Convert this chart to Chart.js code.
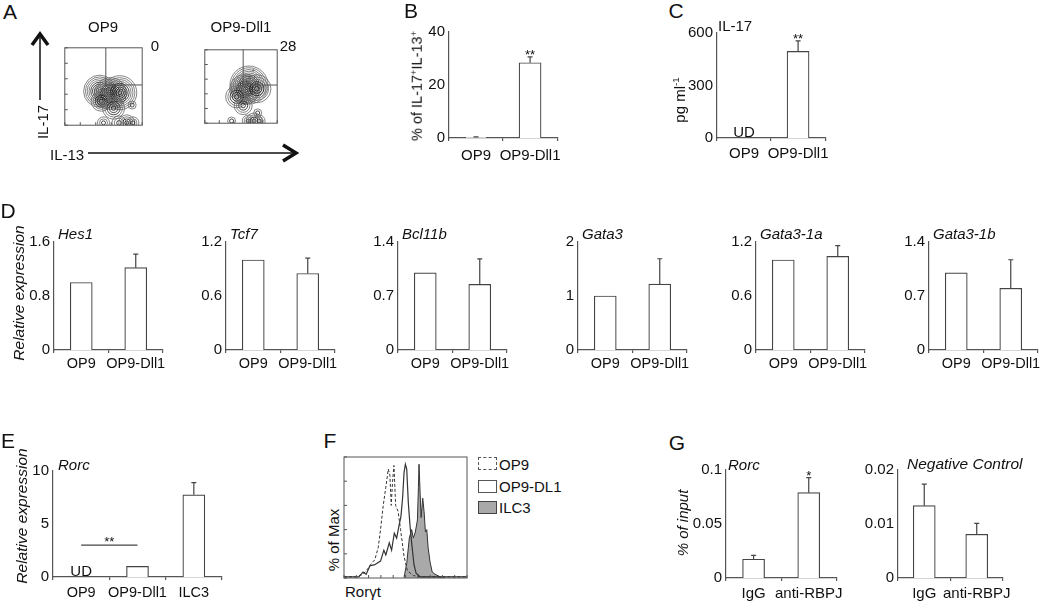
<!DOCTYPE html>
<html>
<head>
<meta charset="utf-8">
<title>Figure</title>
<script src="https://cdn.jsdelivr.net/npm/chart.js@4.4.1/dist/chart.umd.min.js"></script>
<style>
  body { margin: 0; width: 1050px; height: 603px; position: relative; overflow: hidden; background: #fff;
         font-family: "Liberation Sans", Arial, Helvetica, sans-serif; color: #111; }
  canvas { position: absolute; }
  .t { position: absolute; white-space: nowrap; line-height: 1; }
  sup { font-size: .65em; vertical-align: .55em; line-height: 0; }
  .key { position: absolute; left: 478px; width: 19px; height: 13px; box-sizing: border-box; }
</style>
</head>
<body>
<svg width="1050" height="603" style="position:absolute;left:0;top:0">
  <g stroke="#111" fill="none">
    <line x1="40" y1="36" x2="40" y2="100" stroke-width="1.5"/>
    <polyline points="32,45 40,34 48,45" stroke-width="3.5"/>
    <line x1="88" y1="153" x2="295" y2="153" stroke-width="1.5"/>
    <polyline points="283,145 296,153 283,161" stroke-width="3.5"/>
  </g>
</svg>
<div class="key" style="top:457px;border:1px dashed #555;background:#fff"></div>
<div class="key" style="top:480px;border:1px solid #555;background:#fff"></div>
<div class="key" style="top:501px;border:1px solid #444;background:#a9a9a9"></div>
<script>
// ---------- data ----------
// A: contour peaks (x, y in % of channel range, outer ring radius px, number of rings)
const a1PeakX = [45, 59, 71, 47, 63, 87, 50, 70, 80, 88];
const a1PeakY = [44, 41, 42, 31, 22, 26, 3, 3, 3, 3];
const a1PeakR = [16, 16, 17, 10, 11, 4, 6, 7, 8, 6];
const a1PeakN = [9, 10, 9, 5, 5, 2, 3, 3, 4, 3];
const a2PeakX = [61, 55, 72, 44, 53, 73, 37, 60, 68, 75, 67];
const a2PeakY = [52, 46, 47, 36, 24, 14, 3, 3, 3, 3, 72];
const a2PeakR = [19, 15, 14, 11, 9, 4, 4, 6, 8, 6, 0.8];
const a2PeakN = [11, 9, 6, 5, 4, 2, 2, 3, 4, 3, 1];
const gateX = 53, gateY = 52;

// B, C
const bcCats = ['OP9', 'OP9-Dll1'];
const pctIL17IL13 = [0.3, 28.4];
const pctIL17IL13Err = [0.1, 2.2];
const il17pg = [null, 495];
const il17pgErr = [0, 60];

// D
const dCats = ['OP9', 'OP9-Dll1'];
const hes1 = [1.0, 1.22], hes1Err = [0, 0.20];
const tcf7 = [1.0, 0.85], tcf7Err = [0, 0.17];
const bcl11b = [1.0, 0.85], bcl11bErr = [0, 0.33];
const gata3 = [1.0, 1.22], gata3Err = [0, 0.47];
const gata31a = [1.0, 1.04], gata31aErr = [0, 0.12];
const gata31b = [1.0, 0.80], gata31bErr = [0, 0.37];

// E
const eCats = ['OP9', 'OP9-Dll1', 'ILC3'];
const rorcExpr = [null, 1.0, 7.75];
const rorcExprErr = [0, 0, 1.15];

// F: histograms (x = Rorγt channel %, y = % of max)
const op9X = [0, 10, 15.5, 19.6, 22.3, 25, 27.8, 29.7, 31.9, 34, 36, 37.3, 38.4, 39.5, 40.6, 42, 44, 46, 48.8, 51.5, 56.4, 62, 100];
const op9Y = [1, 1, 3, 8, 12, 15, 25, 40, 60, 75, 90, 85, 60, 80, 93, 60, 55, 40, 18, 6, 2, 1, 1];
const dl1X = [0, 12, 15.5, 18, 21, 25, 29.7, 32.4, 34, 36.8, 38.7, 40.9, 42.8, 44.7, 46.3, 47.7, 48.8, 49.9, 51, 52.3, 53.7, 55, 56.9, 58.6, 61.9, 100];
const dl1Y = [1, 1, 5, 3, 10, 11, 14, 23, 19, 29, 23, 37, 33, 43, 51, 67, 87, 94, 90, 62, 43, 29, 11, 4, 1, 1];
const ilc3X = [48.8, 51, 53.1, 55, 56.4, 58, 59.7, 60.5, 61, 61.9, 62.7, 64, 65.1, 66.2, 67.3, 68.4, 70, 71.7, 74.1, 78.2, 82.3];
const ilc3Y = [0.5, 12, 33, 40, 33, 38, 48, 75, 94, 70, 50, 66, 55, 38, 40, 25, 13, 5, 3, 1, 0];

// G
const gCats = ['IgG', 'anti-RBPJ'];
const rorcInput = [0.0174, 0.079], rorcInputErr = [0.0036, 0.014];
const negInput = [0.0134, 0.0081], negInputErr = [0.004, 0.002];

// ---------- helpers ----------
const FONT = '"Liberation Sans", Arial, Helvetica, sans-serif';
const AX = '#555', LINE = '#444', INK = '#111';
Chart.defaults.font.family = FONT;
Chart.defaults.color = INK;
Chart.defaults.animation = false;
Chart.defaults.plugins.legend.display = false;
Chart.defaults.plugins.tooltip.enabled = false;

function canvas(l, t, w, h) {
  const c = document.createElement('canvas');
  c.width = w; c.height = h;
  c.style.left = l + 'px'; c.style.top = t + 'px';
  c.style.width = w + 'px'; c.style.height = h + 'px';
  document.body.appendChild(c);
  return c;
}

function text(html, x, y, size, o = {}) {
  const d = document.createElement('div');
  d.className = 't';
  d.innerHTML = html;
  d.style.left = x + 'px';
  d.style.top = y + 'px';
  d.style.fontSize = size + 'px';
  if (o.it) d.style.fontStyle = 'italic';
  d.style.transform = `translate(${o.left ? '0' : '-50%'},-50%)` + (o.rot ? ' rotate(-90deg)' : '');
  document.body.appendChild(d);
}

const fmt = v => String(Math.round(v * 1e4) / 1e4);

// error bars, stars, UD and brackets drawn from the bar elements / scales
function marks(errs, o) {
  return {
    id: 'marks',
    afterDatasetsDraw(chart) {
      const ctx = chart.ctx, x = chart.scales.x, y = chart.scales.y;
      const vals = chart.data.datasets[0].data;
      const meta = chart.getDatasetMeta(0);
      ctx.save();
      ctx.strokeStyle = LINE;
      ctx.lineWidth = 1.2;
      meta.data.forEach((bar, i) => {
        if (vals[i] == null || !errs[i]) return;
        const top = y.getPixelForValue(vals[i] + errs[i]);
        ctx.beginPath();
        ctx.moveTo(bar.x, bar.y); ctx.lineTo(bar.x, top);
        ctx.moveTo(bar.x - 2.5, top); ctx.lineTo(bar.x + 2.5, top);
        ctx.stroke();
      });
      ctx.fillStyle = INK;
      ctx.textAlign = 'center';
      ctx.textBaseline = 'alphabetic';
      ctx.font = `13px ${FONT}`;
      (o.stars || []).forEach((s, i) => {
        if (!s) return;
        const v = (vals[i] || 0) + (errs[i] || 0);
        ctx.fillText(s, x.getPixelForValue(i), y.getPixelForValue(v) + 2);
      });
      if (o.bracket) {
        const b = o.bracket, py = y.getPixelForValue(b.v);
        const x0 = x.getPixelForValue(b.from), x1 = x.getPixelForValue(b.to);
        ctx.beginPath(); ctx.moveTo(x0, py); ctx.lineTo(x1, py); ctx.stroke();
        ctx.fillText(b.text, (x0 + x1) / 2, py + 1);
      }
      ctx.font = `15px ${FONT}`;
      (o.ud || []).forEach(i => {
        ctx.fillText('UD', x.getPixelForValue(i), y.getPixelForValue(0) - 1);
      });
      ctx.restore();
    }
  };
}

function barPanel(box, cats, vals, errs, yMax, yStep, o = {}) {
  const yw = 40, xh = 28, pt = 12, pr = 6;
  const c = canvas(box.l - yw, box.t - pt, box.r - box.l + yw + pr, box.b - box.t + pt + xh);
  new Chart(c, {
    type: 'bar',
    data: {
      labels: cats,
      datasets: [{ data: vals, backgroundColor: '#fff', borderColor: LINE, borderWidth: 1.2, barThickness: 22 }]
    },
    options: {
      responsive: false,
      devicePixelRatio: 1,
      layout: { padding: { top: pt, right: pr, left: 0, bottom: 0 } },
      scales: {
        x: {
          grid: { drawOnChartArea: false, tickLength: 3, color: AX, lineWidth: 1.2 },
          border: { color: AX, width: 1.2 },
          ticks: { padding: o.xPad ?? 4, font: { size: o.xFont || 15 }, color: INK, maxRotation: 0, autoSkip: false },
          afterFit: s => { s.height = xh; }
        },
        y: {
          min: 0, max: yMax,
          grid: { display: false, drawTicks: false, tickLength: 0 },
          border: { color: AX, width: 1.2 },
          ticks: { stepSize: yStep, padding: 4, font: { size: 15 }, color: INK, callback: fmt },
          afterFit: s => { s.width = yw; }
        }
      }
    },
    plugins: [marks(errs, o)]
  });
}

const hiddenAxis = step => ({
  min: 0, max: 100,
  ticks: { display: false, stepSize: step },
  grid: { display: false, drawTicks: false },
  border: { display: false },
  afterFit: s => { if (s.isHorizontal()) s.height = 0; else s.width = 0; }
});

// plot frame with short inward tick marks taken from the scales
const frame = {
  id: 'frame',
  afterDatasetsDraw(chart) {
    const { ctx, chartArea: a, scales: { x, y } } = chart;
    ctx.save();
    ctx.strokeStyle = AX;
    ctx.lineWidth = 1;
    ctx.strokeRect(a.left, a.top, a.width, a.height);
    ctx.beginPath();
    x.ticks.forEach(t => { const p = x.getPixelForValue(t.value); ctx.moveTo(p, a.bottom); ctx.lineTo(p, a.bottom - 3); });
    y.ticks.forEach(t => { const p = y.getPixelForValue(t.value); ctx.moveTo(a.left, p); ctx.lineTo(a.left + 3, p); });
    ctx.stroke();
    ctx.restore();
  }
};

const gate = (gx, gy) => ({
  id: 'gate',
  afterDatasetsDraw(chart) {
    const { ctx, chartArea: a, scales: { x, y } } = chart;
    const X = x.getPixelForValue(gx), Y = y.getPixelForValue(gy);
    ctx.save();
    ctx.strokeStyle = AX;
    ctx.lineWidth = 1;
    ctx.beginPath();
    ctx.moveTo(X, a.top); ctx.lineTo(X, Y); ctx.lineTo(a.right, Y);
    ctx.stroke();
    ctx.restore();
  }
});

function flowPanel(box, px, py, pr, pn) {
  const m = 2;
  const rings = [], shades = [];
  px.forEach((x, i) => {
    for (let k = 1; k <= pn[i]; k++) {
      rings.push({ x, y: py[i], r: pr[i] * k / pn[i] });
      shades.push(k / pn[i] > 0.6 ? '#666' : '#1a1a1a');   // outer levels lighter
    }
  });
  const c = canvas(box.l - m, box.t - m, box.r - box.l + 2 * m, box.b - box.t + 2 * m);
  new Chart(c, {
    type: 'bubble',
    data: { datasets: [{ data: rings, backgroundColor: 'rgba(0,0,0,0)', borderColor: shades, borderWidth: 0.8, clip: 0 }] },
    options: {
      responsive: false,
      devicePixelRatio: 1,
      layout: { padding: m },
      scales: { x: hiddenAxis(20), y: hiddenAxis(20) }
    },
    plugins: [frame, gate(gateX, gateY)]
  });
}

const zip = (xs, ys) => xs.map((x, i) => ({ x, y: ys[i] }));

// ---------- A ----------
text('A', 10, 11, 21);
flowPanel({ l: 49, t: 32, r: 158, b: 141 }, a1PeakX, a1PeakY, a1PeakR, a1PeakN);
flowPanel({ l: 187, t: 32, r: 295, b: 141 }, a2PeakX, a2PeakY, a2PeakR, a2PeakN);
text('OP9', 103, 26, 15);
text('OP9-Dll1', 241, 26, 15);
text('0', 155, 45, 15);
text('28', 288, 45, 15);
text('IL-17', 42, 122, 15, { rot: true });
text('IL-13', 50, 154, 15, { left: true });

// ---------- B ----------
text('B', 411, 10, 21);
barPanel({ l: 449, t: 31, r: 562, b: 138 }, bcCats, pctIL17IL13, pctIL17IL13Err, 40, 20, { xPad: 6, stars: ['', '**'] });
text('% of IL-17<sup>+</sup>IL-13<sup>+</sup>', 417, 86, 14.5, { rot: true });

// ---------- C ----------
text('C', 676, 10, 21);
barPanel({ l: 717, t: 32, r: 828, b: 138 }, bcCats, il17pg, il17pgErr, 600, 300, { xPad: 4, stars: ['', '**'], ud: [0] });
text('IL-17', 718, 25, 15, { left: true });
text('pg ml<sup>-1</sup>', 679, 100, 15, { rot: true });

// ---------- D ----------
text('D', 8, 210, 21);
const dSets = [
  ['Hes1', hes1, hes1Err, 1.6, 0.8, 54],
  ['Tcf7', tcf7, tcf7Err, 1.2, 0.6, 226],
  ['Bcl11b', bcl11b, bcl11bErr, 1.4, 0.7, 398],
  ['Gata3', gata3, gata3Err, 2, 1, 578],
  ['Gata3-1a', gata31a, gata31aErr, 1.2, 0.6, 756],
  ['Gata3-1b', gata31b, gata31bErr, 1.4, 0.7, 929]
];
dSets.forEach(([name, v, e, max, step, l]) => {
  barPanel({ l, t: 241, r: l + 109, b: 350 }, dCats, v, e, max, step, { xPad: 2, xFont: 14.5 });
  text(name, l + 4, 233, 15, { it: true, left: true });
});
text('Relative expression', 19, 293, 15.5, { it: true, rot: true });

// ---------- E ----------
text('E', 8, 440, 21);
barPanel({ l: 53, t: 470, r: 222, b: 577 }, eCats, rorcExpr, rorcExprErr, 10, 5,
  { xPad: 4, xFont: 14.5, ud: [0], bracket: { from: 0, to: 1, v: 3, text: '**' } });
text('Rorc', 58, 464, 15, { it: true, left: true });
text('Relative expression', 22, 516, 15.5, { it: true, rot: true });

// ---------- F ----------
text('F', 330, 440, 21);
(function () {
  const box = { l: 344, t: 457, r: 467, b: 578 }, m = 2;
  const c = canvas(box.l - m, box.t - m, box.r - box.l + 2 * m, box.b - box.t + 2 * m);
  new Chart(c, {
    type: 'scatter',
    data: {
      datasets: [
        { label: 'OP9', data: zip(op9X, op9Y), showLine: true, borderColor: '#333', borderWidth: 1, borderDash: [3, 2], pointRadius: 0, fill: false },
        { label: 'OP9-DL1', data: zip(dl1X, dl1Y), showLine: true, borderColor: '#333', borderWidth: 1.2, pointRadius: 0, fill: false },
        { label: 'ILC3', data: zip(ilc3X, ilc3Y), showLine: true, borderColor: '#333', borderWidth: 1, pointRadius: 0, fill: 'origin', backgroundColor: '#a9a9a9' }
      ]
    },
    options: {
      responsive: false,
      devicePixelRatio: 1,
      layout: { padding: m },
      scales: { x: hiddenAxis(10), y: hiddenAxis(20) }
    },
    plugins: [frame]
  });
})();
text('% of Max', 333, 540, 15, { rot: true });
text('Ror&gamma;t', 345, 591, 15, { left: true });
text('OP9', 499, 464, 15, { left: true });
text('OP9-DL1', 499, 486, 15, { left: true });
text('ILC3', 499, 507, 15, { left: true });

// ---------- G ----------
text('G', 677, 442, 21);
barPanel({ l: 726, t: 469, r: 842, b: 578 }, gCats, rorcInput, rorcInputErr, 0.1, 0.05, { xPad: 4, stars: ['', '*'] });
text('Rorc', 728, 464, 15, { it: true, left: true });
text('% of input', 682, 523, 15, { it: true, rot: true });
barPanel({ l: 898, t: 469, r: 1010, b: 578 }, gCats, negInput, negInputErr, 0.02, 0.01, { xPad: 4 });
text('Negative Control', 907, 464, 15.5, { it: true, left: true });
</script>
</body>
</html>
